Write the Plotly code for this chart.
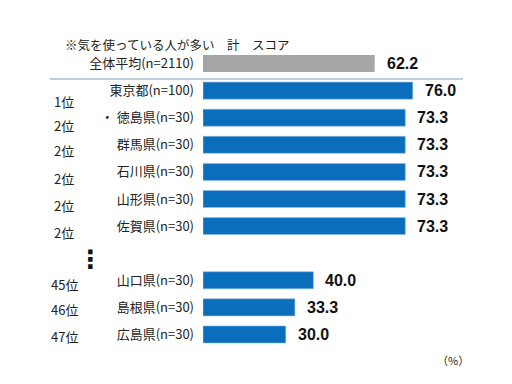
import plotly.graph_objects as go

TITLE = "※気を使っている人が多い　計　スコア"
AVG_LABEL = "全体平均(n=2110)"
AVG_VALUE = 62.2
GAP = " "
PREFS = ["東京都(n=100)", "・ 徳島県(n=30)", "群馬県(n=30)", "石川県(n=30)",
         "山形県(n=30)", "佐賀県(n=30)", GAP, "山口県(n=30)", "島根県(n=30)", "広島県(n=30)"]
PREF_VALUES = [76.0, 73.3, 73.3, 73.3, 73.3, 73.3, None, 40.0, 33.3, 30.0]
RANKS = ["1位", "2位", "2位", "2位", "2位", "2位", None, "45位", "46位", "47位"]
UNIT = "（%）"

CATS = [AVG_LABEL] + PREFS

JP = "Noto Sans CJK JP"
NUM = "Liberation Sans"
GRAY = "#a6a6a6"
BLUE = "#0a6ebd"
RANK_SHIFT = [-11, -8, -6, -6.5, -6, -6, 0, -4.5, -2.5, -2.5]

L, R, T, B = 203, 33, 50, 36
PW, PH = 512 - L - R, 384 - T - B
def px(x):
    return (x - L) / PW
def py(y):
    return 1 - (y - T) / PH

fig = go.Figure()
fig.add_trace(go.Bar(y=[AVG_LABEL], x=[AVG_VALUE], orientation="h", width=0.63,
                     marker=dict(color=GRAY, line=dict(width=0)), hoverinfo="skip"))
fig.add_trace(go.Bar(y=PREFS, x=PREF_VALUES, orientation="h", width=0.63,
                     marker=dict(color=BLUE, line=dict(color="#8fbde6", width=0.6)),
                     hoverinfo="skip"))

ann = []
for cat, v in [(AVG_LABEL, AVG_VALUE)] + list(zip(PREFS, PREF_VALUES)):
    if v is None:
        continue
    ann.append(dict(x=v, y=cat, xref="x", yref="y", text=f"{v:.1f}", showarrow=False,
                    xanchor="left", xshift=10,
                    font=dict(family=NUM, size=16, color="#111111", weight="bold")))
for i, (cat, r) in enumerate(zip(PREFS, RANKS)):
    if r is None:
        continue
    ann.append(dict(x=px(64), y=cat, xref="paper", yref="y", text=r, showarrow=False,
                    xanchor="center", yshift=RANK_SHIFT[i],
                    font=dict(family=JP, size=13, color="#222222")))
ann.append(dict(x=px(90), y=GAP, xref="paper", yref="y", text="⋮", showarrow=False,
                xanchor="center", yshift=-6,
                font=dict(family="DejaVu Sans", size=25, color="#111111", weight="bold")))
ann.append(dict(x=px(63), y=py(45), xref="paper", yref="paper", text=TITLE, showarrow=False,
                xanchor="left", yanchor="middle",
                font=dict(family=JP, size=12.5, color="#222222")))
ann.append(dict(x=px(453), y=py(360), xref="paper", yref="paper", text=UNIT, showarrow=False,
                xanchor="center", yanchor="middle",
                font=dict(family=JP, size=11, color="#222222")))

fig.update_layout(
    width=512, height=384,
    margin=dict(l=L, r=R, t=T, b=B),
    paper_bgcolor="white", plot_bgcolor="white",
    barmode="overlay", showlegend=False,
    annotations=ann,
    shapes=[dict(type="line", xref="paper", yref="y", x0=px(50), x1=px(463),
                 y0=0.57, y1=0.57, line=dict(color="#a9bccf", width=1.5))],
    xaxis=dict(range=[0, 100], visible=False, fixedrange=True),
    yaxis=dict(type="category", categoryorder="array", categoryarray=CATS,
               autorange="reversed", showgrid=False, zeroline=False,
               showline=False, ticks="", ticklabelstandoff=8,
               tickfont=dict(family=JP, size=13, color="#222222"), fixedrange=True),
)
fig.write_html("out.html", config={"displayModeBar": False},
               post_script="document.body.style.margin='0';document.body.style.overflow='hidden';")
